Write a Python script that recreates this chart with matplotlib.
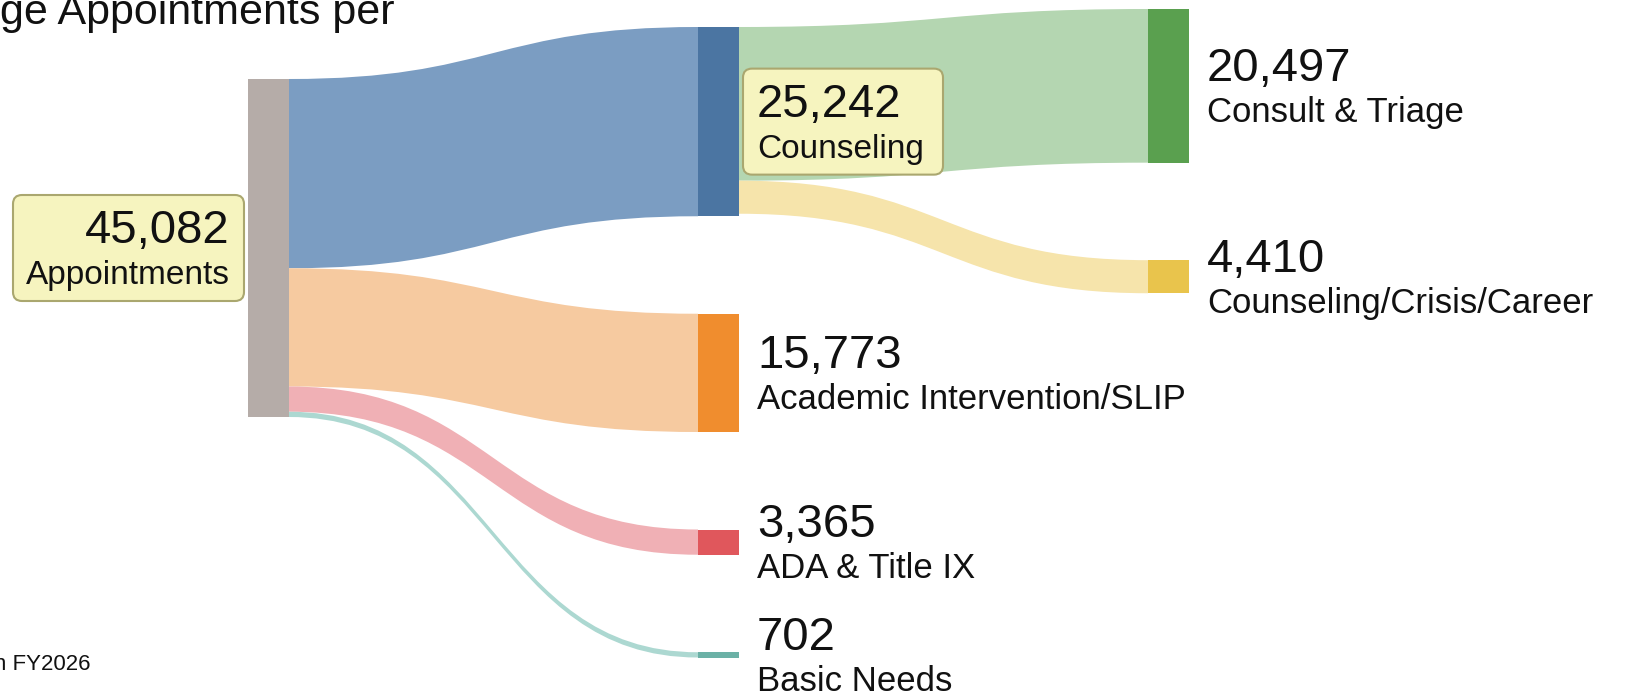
import matplotlib
matplotlib.use("Agg")
import matplotlib.pyplot as plt
from matplotlib.path import Path
from matplotlib.patches import PathPatch, Rectangle, FancyBboxPatch

plt.rcParams["font.family"] = ["Liberation Sans", "DejaVu Sans"]

# nodes of the sankey
node_names = ["Appointments", "Counseling", "Academic Intervention/SLIP",
              "ADA & Title IX", "Basic Needs", "Consult & Triage",
              "Counseling/Crisis/Career"]
node_values = [45082, 25242, 15773, 3365, 702, 20497, 4410]
node_column = [0, 1, 1, 1, 1, 2, 2]
node_colors = ["#b5aca8", "#4b75a2", "#f08d2e", "#e0575c", "#6bb1a6",
               "#5aa04f", "#e9c44c"]

# links between nodes
link_source = [0, 0, 0, 0, 1, 1]
link_target = [1, 2, 3, 4, 5, 6]
link_values = [25242, 15773, 3365, 702, 20497, 4410]
link_colors = ["#7b9dc2", "#f6caa0", "#f0b0b5", "#acd8d1", "#b4d6b1", "#f6e4ab"]

# nodes whose label sits in a yellow box
boxed_nodes = [0, 1]

# layout (pixel units)
col_x = [248, 698, 1148]
col_top = [79, 27, 9]
node_w = 41
gap = 97.5
scale = 338 / 45082

fig = plt.figure(figsize=(16.36, 6.96), dpi=100)
ax = fig.add_axes([0, 0, 1, 1])
ax.set_xlim(0, 1636)
ax.set_ylim(696, 0)
ax.axis("off")

# node positions
node_top = []
node_h = []
next_y = list(col_top)
for i, v in enumerate(node_values):
    c = node_column[i]
    h = v * scale
    node_top.append(next_y[c])
    node_h.append(h)
    next_y[c] += h + gap

# links as bezier bands
out_y = list(node_top)
in_y = list(node_top)
for s, t, v, col in zip(link_source, link_target, link_values, link_colors):
    h = v * scale
    x0 = col_x[node_column[s]] + node_w
    x1 = col_x[node_column[t]]
    xm = (x0 + x1) / 2
    y0a, y0b = out_y[s], out_y[s] + h
    y1a, y1b = in_y[t], in_y[t] + h
    out_y[s] += h
    in_y[t] += h
    verts = [(x0, y0a), (xm, y0a), (xm, y1a), (x1, y1a),
             (x1, y1b), (xm, y1b), (xm, y0b), (x0, y0b), (x0, y0a)]
    codes = [Path.MOVETO, Path.CURVE4, Path.CURVE4, Path.CURVE4,
             Path.LINETO, Path.CURVE4, Path.CURVE4, Path.CURVE4, Path.CLOSEPOLY]
    ax.add_patch(PathPatch(Path(verts, codes), facecolor=col, edgecolor="none", zorder=1))

# node bars and labels
for i, name in enumerate(node_names):
    c = node_column[i]
    x = col_x[c]
    ax.add_patch(Rectangle((x, node_top[i]), node_w, node_h[i],
                           facecolor=node_colors[i], edgecolor="none", zorder=2))
    yc = node_top[i] + node_h[i] / 2
    if c == 0:
        tx, ha = x - 18, "right"
    else:
        tx, ha = x + node_w + 18, "left"
    name_size = 25
    if i in boxed_nodes:
        name_size = 24
        if c == 0:
            bx, bw = 13, x - 4 - 13
        else:
            bx, bw = x + node_w + 4, 200
        ax.add_patch(FancyBboxPatch((bx, yc - 53), bw, 106,
                                    boxstyle="round,pad=0,rounding_size=9",
                                    facecolor="#f6f4bf", edgecolor="#aaa76f",
                                    lw=1.5, zorder=3))
    ax.text(tx, yc - 5, f"{node_values[i]:,}", fontsize=34, ha=ha,
            va="baseline", color="#111111", zorder=4)
    ax.text(tx, yc + 36, name, fontsize=name_size, ha=ha,
            va="baseline", color="#111111", zorder=4)

# cropped title and footnote
ax.text(395, 24, "ge Appointments per", fontsize=31, ha="right",
        va="baseline", color="#111111")
ax.text(91, 670, "n FY2026", fontsize=16, ha="right",
        va="baseline", color="#111111")

fig.savefig("out.png", dpi=100)
